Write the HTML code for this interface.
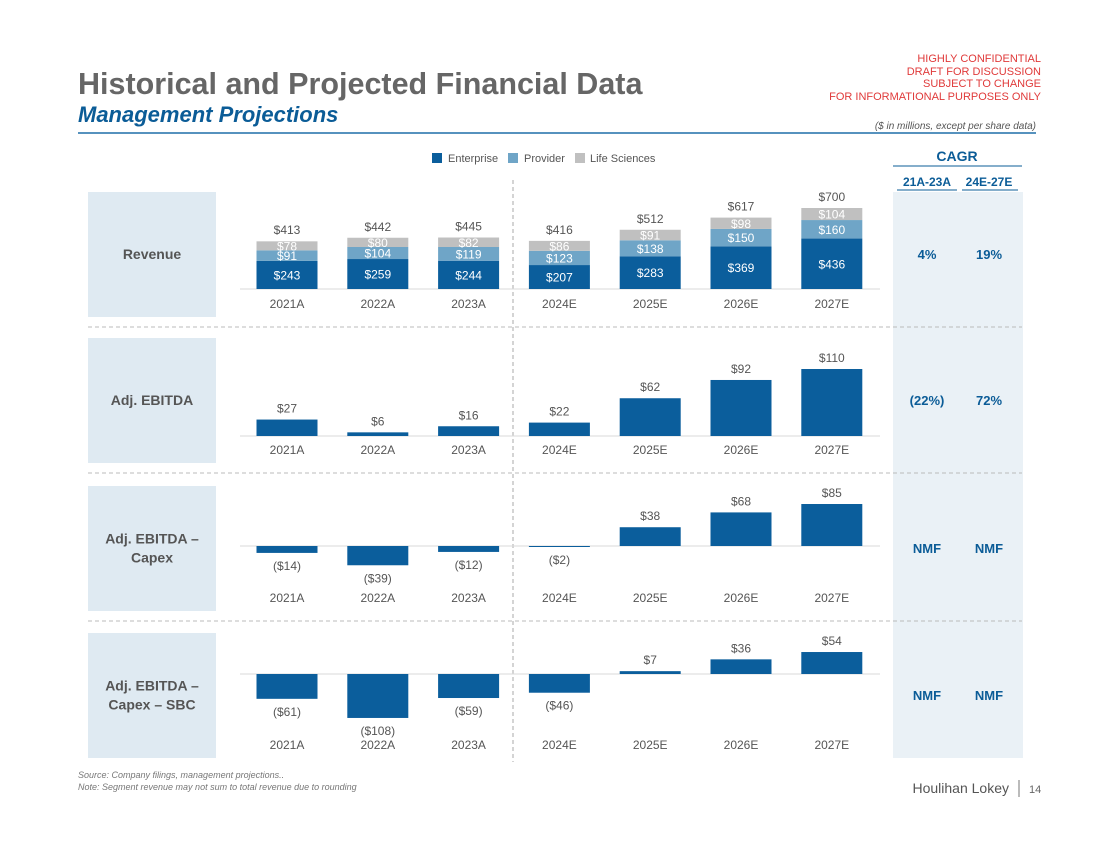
<!DOCTYPE html>
<html><head><meta charset="utf-8"><style>
body{margin:0;background:#fff;font-family:"Liberation Sans",sans-serif;}
#root{position:relative;width:1100px;height:849px;overflow:hidden;}
svg text{font-family:"Liberation Sans",sans-serif;}
</style></head><body><div id="root">
<svg id="s" width="1100" height="849" xmlns="http://www.w3.org/2000/svg">
<text x="78" y="94" font-size="30.5" font-weight="bold" fill="#666">Historical and Projected Financial Data</text>
<text x="78" y="122" font-size="22" font-weight="bold" font-style="italic" fill="#0b5c97">Management Projections</text>
<g fill="#e03a3a" font-size="11" text-anchor="end">
<text x="1041" y="62">HIGHLY CONFIDENTIAL</text><text x="1041" y="75">DRAFT FOR DISCUSSION</text>
<text x="1041" y="87">SUBJECT TO CHANGE</text><text x="1041" y="100">FOR INFORMATIONAL PURPOSES ONLY</text></g>
<text x="1036" y="129" font-size="10" font-style="italic" fill="#555" text-anchor="end">($ in millions, except per share data)</text>
<line x1="78" y1="133" x2="1036" y2="133" stroke="#1f6fa8" stroke-width="1.5"/>
<g font-size="11" fill="#555">
<rect x="432" y="153" width="10" height="10" fill="#0b5e9c"/><text x="448" y="162">Enterprise</text>
<rect x="508" y="153" width="10" height="10" fill="#6fa5c7"/><text x="524" y="162">Provider</text>
<rect x="575" y="153" width="10" height="10" fill="#c0c0c0"/><text x="590" y="162">Life Sciences</text></g>
<rect x="893" y="192" width="130" height="566" fill="#eaf1f6"/>
<text x="957" y="161" font-size="14" font-weight="bold" fill="#0b5c97" text-anchor="middle">CAGR</text>
<line x1="893" y1="166" x2="1022" y2="166" stroke="#0b5c97"/>
<text x="927" y="186" font-size="12" font-weight="bold" fill="#0b5c97" text-anchor="middle">21A-23A</text>
<text x="989" y="186" font-size="12" font-weight="bold" fill="#0b5c97" text-anchor="middle">24E-27E</text>
<line x1="897" y1="190" x2="957" y2="190" stroke="#0b5c97"/><line x1="962" y1="190" x2="1018" y2="190" stroke="#0b5c97"/>
<line x1="513" y1="180" x2="513" y2="762" stroke="#aaa" stroke-dasharray="4,3"/>
<text x="78" y="778" font-size="9" font-style="italic" fill="#777">Source: Company filings, management projections..</text>
<text x="78" y="790" font-size="9" font-style="italic" fill="#777">Note: Segment revenue may not sum to total revenue due to rounding</text>
<text x="1009" y="793" font-size="14" fill="#555" text-anchor="end">Houlihan Lokey</text>
<line x1="1019" y1="780" x2="1019" y2="797" stroke="#777"/>
<text x="1029" y="793" font-size="11" fill="#666">14</text>
</svg></div>
<script>
const categories=["2021A","2022A","2023A","2024E","2025E","2026E","2027E"];
const enterprise=[243,259,244,207,283,369,436];
const provider=[91,104,119,123,138,150,160];
const lifeSciences=[78,80,82,86,91,98,104];
const revenueTotal=[413,442,445,416,512,617,700];
const ebitda=[27,6,16,22,62,92,110];
const ebitdaCapex=[-14,-39,-12,-2,38,68,85];
const ebitdaCapexSbc=[-61,-108,-59,-46,7,36,54];
const cagrA=["4%","(22%)","NMF","NMF"];
const cagrB=["19%","72%","NMF","NMF"];
const panelNames=["Revenue","Adj. EBITDA","Adj. EBITDA –|Capex","Adj. EBITDA –|Capex – SBC"];

const s=document.getElementById('s');const NS="http://www.w3.org/2000/svg";
function el(t,a,txt){const e=document.createElementNS(NS,t);for(const k in a)e.setAttribute(k,a[k]);if(txt!==undefined)e.textContent=txt;s.appendChild(e);return e;}
const xC=i=>287+i*90.8, BW=61;
const fmt=v=>v<0?"($"+(-v)+")":"$"+v;
const panels=[{top:192,base:289,k:0.1157},{top:338,base:436,k:0.609},{top:486,base:546,k:0.494},{top:633,base:674,k:0.407}];
panels.forEach((p,pi)=>{
  let r=el('rect',{x:88,y:p.top,width:128,height:125,fill:'#dfeaf2'});
  
  
  const lines=panelNames[pi].split('|');
  lines.forEach((l,li)=>{let t=el('text',{x:152,y:p.top+67+(li-(lines.length-1)/2)*19,'font-size':14,'font-weight':'bold',fill:'#555','text-anchor':'middle'},l);
    
    });
  let a=el('text',{x:927,y:p.top+67,'font-size':13,'font-weight':'bold',fill:'#0b5c97','text-anchor':'middle'},cagrA[pi]);
  
  
  let b=el('text',{x:989,y:p.top+67,'font-size':13,'font-weight':'bold',fill:'#0b5c97','text-anchor':'middle'},cagrB[pi]);
  
  
  if(pi<3){let d=el('line',{x1:88,x2:1022,y1:p.top+135,y2:p.top+135,stroke:'#bbb','stroke-dasharray':'4,3'});
    
    }
  let ax=el('line',{x1:240,x2:880,y1:p.base,y2:p.base,stroke:'#d9d9d9'});
  
  
  categories.forEach((c,i)=>{let t=el('text',{x:xC(i),y:p.top+116,'font-size':12,fill:'#555','text-anchor':'middle'},c);
    
    });
});
const P=panels[0];
categories.forEach((c,i)=>{
  let y=P.base;
  [[enterprise,'#0b5e9c','bar-enterprise'],[provider,'#6fa5c7','bar-provider'],[lifeSciences,'#c0c0c0','bar-life-sciences']].forEach(([arr,col,nm])=>{
    const h=arr[i]*P.k;y-=h;
    let r=el('rect',{x:xC(i)-BW/2,y:y,width:BW,height:h,fill:col});
    
    
    let t=el('text',{x:xC(i),y:y+h/2+4.5,'font-size':12,fill:'#fff','text-anchor':'middle'},fmt(arr[i]));
    
    
  });
  let t=el('text',{x:xC(i),y:P.base-revenueTotal[i]*P.k-7,'font-size':12,fill:'#555','text-anchor':'middle'},fmt(revenueTotal[i]));
  
  
});
[[ebitda,1,'bar-adj-ebitda'],[ebitdaCapex,2,'bar-ebitda-capex'],[ebitdaCapexSbc,3,'bar-ebitda-capex-sbc']].forEach(([arr,pi,nm])=>{
  const p=panels[pi];
  arr.forEach((v,i)=>{
    const h=Math.max(Math.abs(v)*p.k,1);const y=v>=0?p.base-h:p.base;
    let r=el('rect',{x:xC(i)-BW/2,y:y,width:BW,height:h,fill:'#0b5e9c'});
    
    
    let t=el('text',{x:xC(i),y:v>=0?y-7:y+h+17,'font-size':12,fill:'#555','text-anchor':'middle'},fmt(v));
    
    
  });
});
</script></body></html>
